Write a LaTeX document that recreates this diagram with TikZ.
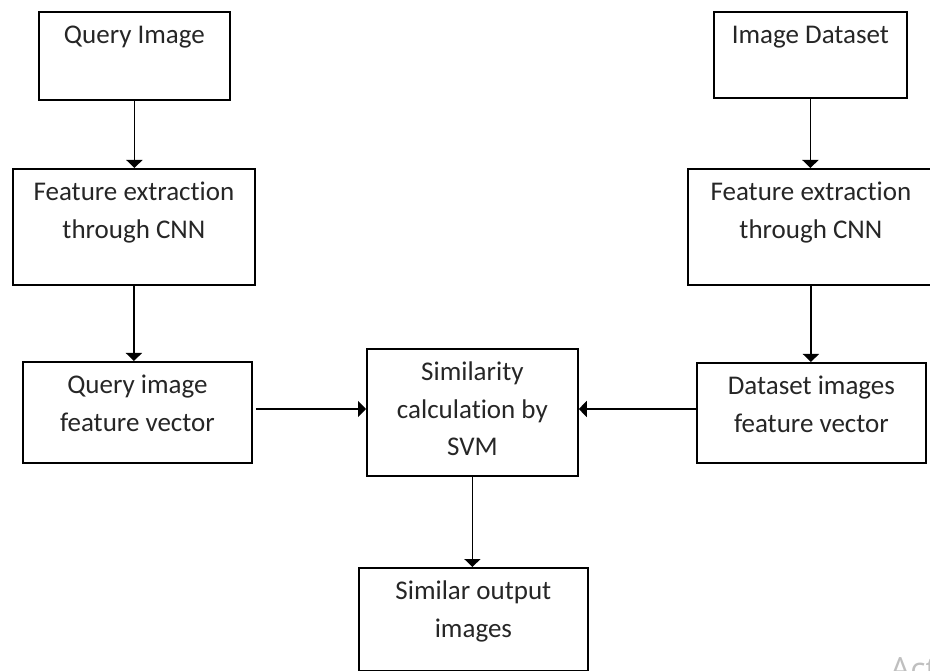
\documentclass[tikz,border=0pt]{standalone}
\usepackage{fontspec}
\setmainfont{Carlito}[Ligatures=NoCommon]
\setsansfont{Open Sans}
\usetikzlibrary{arrows.meta}
\newcommand{\bxtext}[3]{\parbox[c][#2][t]{#1}{\centering\rule{0pt}{32pt}#3}}
\tikzset{
  blk/.style={draw, line width=1.8pt, inner sep=0pt, anchor=north west,
    font=\fontsize{27}{37.5}\selectfont, text=black!85},
  arr/.style={line width=1.6pt, -{Triangle[length=8pt,width=16pt]}},
}
\begin{document}
\begin{tikzpicture}[x=1pt,y=-1pt]
\useasboundingbox (0,0) rectangle (930,671);
\node[blk] (q)  at (38,11)   {\bxtext{191pt}{88pt}{Query Image}};
\node[blk] (f1) at (12,168)  {\bxtext{242pt}{116pt}{Feature extract\kern0pt ion\\through CNN}};
\node[blk] (qv) at (22,361)  {\bxtext{229pt}{101pt}{Query image\\feature vector}};
\node[blk] (d)  at (713,11)  {\bxtext{193pt}{86pt}{Image Dataset}};
\node[blk] (f2) at (687,168) {\bxtext{246pt}{116pt}{Feature extract\kern0pt ion\\through CNN}};
\node[blk] (dv) at (696,362) {\bxtext{229pt}{100pt}{Dataset images\\feature vector}};
\node[blk] (s)  at (366,348) {\bxtext{211pt}{127pt}{Similarity\\calculat\kern0pt ion by\\SVM}};
\node[blk] (o)  at (358,567) {\bxtext{229pt}{103pt}{Similar output\\images}};
\node[anchor=base west, text=black!25, inner sep=0pt,
  font=\fontsize{32}{36}\selectfont\sffamily] (wm) at (890,680) {Act};
\draw[arr] (q.south) -- (q.south |- f1.north);
\draw[arr] (f1.south) -- (f1.south |- qv.north);
\draw[arr] (d.south) -- (d.south |- f2.north);
\draw[arr] (f2.south) -- (f2.south |- dv.north);
\draw[arr] ([xshift=3pt]qv.east |- 0,409) -- (s.west |- 0,409);
\draw[arr] (dv.west |- 0,409) -- (s.east |- 0,409);
\draw[arr] (s.south) -- (s.south |- o.north);
\end{tikzpicture}
\end{document}
